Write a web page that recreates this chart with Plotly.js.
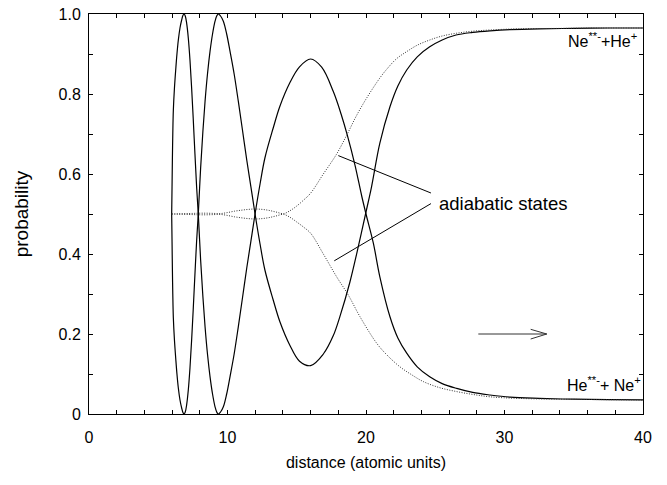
<!DOCTYPE html>
<html>
<head>
<meta charset="utf-8">
<script src="https://cdn.plot.ly/plotly-3.0.1.min.js"></script>
<style>html,body{margin:0;padding:0;background:#fff;}#chart{width:667px;height:485px;}</style>
</head>
<body>
<div id="chart"></div>
<script>
// Diabatic (solid) curve A
const xA = [5.97, 6.0, 6.02, 6.05, 6.09, 6.17, 6.26, 6.35, 6.45, 6.57, 6.69, 6.78, 6.86, 6.95, 7.05, 7.17, 7.29, 7.41, 7.53, 7.65, 7.77, 7.89, 8.06, 8.22, 8.38, 8.56, 8.74, 8.92, 9.1, 9.22, 9.34, 9.5, 9.7, 9.94, 10.18, 10.48, 10.78, 11.08, 11.39, 11.69, 11.99, 12.35, 12.7, 13.3, 13.79, 14.5, 15.2, 16.0, 16.8, 17.64, 18.2, 18.65, 19.2, 19.69, 20.0, 20.53, 21.0, 21.73, 22.3, 22.94, 23.7, 24.6, 25.5, 26.55, 27.7, 28.95, 30.4, 32.5, 35, 37.5, 40];
const yA = [0.5, 0.58, 0.635, 0.70, 0.76, 0.815, 0.86, 0.9, 0.935, 0.965, 0.985, 0.996, 1.0, 0.995, 0.977, 0.94, 0.885, 0.815, 0.735, 0.65, 0.568, 0.5, 0.385, 0.295, 0.218, 0.148, 0.093, 0.05, 0.018, 0.005, 0.0, 0.005, 0.018, 0.05, 0.093, 0.15, 0.218, 0.29, 0.365, 0.432, 0.5, 0.575, 0.64, 0.715, 0.77, 0.828, 0.868, 0.8875, 0.867, 0.806, 0.75, 0.697, 0.623, 0.545, 0.5, 0.427, 0.343, 0.243, 0.19, 0.152, 0.118, 0.093, 0.076, 0.064, 0.054, 0.0475, 0.042, 0.039, 0.037, 0.036, 0.0355];

// Diabatic (solid) curve B
const xB = [5.97, 6.0, 6.02, 6.05, 6.09, 6.17, 6.26, 6.35, 6.45, 6.57, 6.69, 6.78, 6.86, 6.95, 7.05, 7.17, 7.29, 7.41, 7.53, 7.65, 7.77, 7.89, 8.06, 8.22, 8.38, 8.56, 8.74, 8.92, 9.1, 9.22, 9.34, 9.5, 9.7, 9.94, 10.18, 10.48, 10.78, 11.08, 11.39, 11.69, 11.99, 12.35, 12.7, 13.3, 13.79, 14.5, 15.2, 16.0, 16.92, 17.64, 18.12, 18.84, 19.33, 20.0, 20.4, 21.0, 21.73, 22.3, 22.94, 23.7, 24.6, 25.5, 26.5, 27.7, 28.95, 30.4, 32.5, 35, 37.5, 40];
const yB = [0.5, 0.42, 0.365, 0.30, 0.24, 0.185, 0.14, 0.10, 0.065, 0.035, 0.015, 0.004, 0.0, 0.005, 0.023, 0.06, 0.115, 0.185, 0.265, 0.35, 0.432, 0.5, 0.615, 0.705, 0.782, 0.852, 0.907, 0.95, 0.982, 0.995, 1.0, 0.995, 0.982, 0.95, 0.907, 0.85, 0.782, 0.71, 0.635, 0.568, 0.5, 0.425, 0.36, 0.285, 0.23, 0.172, 0.132, 0.121, 0.15, 0.196, 0.244, 0.33, 0.401, 0.505, 0.568, 0.677, 0.768, 0.82, 0.86, 0.893, 0.918, 0.935, 0.9475, 0.954, 0.958, 0.961, 0.963, 0.964, 0.965, 0.965];

// Adiabatic (dotted) state 1
const xD1 = [5.97, 6.5, 7, 7.5, 8, 8.5, 9, 9.46, 9.9, 10.5, 11, 11.5, 12, 12.5, 13, 13.5, 14.05, 14.5, 15, 15.5, 16, 16.92, 17.88, 18.65, 19.3, 20.05, 21, 21.5, 22.2, 22.94, 23.7, 24.6, 25.5, 26.55, 27.7, 28.95, 31, 34, 37, 40];
const yD1 = [0.5, 0.5005, 0.501, 0.5015, 0.502, 0.502, 0.5015, 0.501, 0.503, 0.507, 0.5095, 0.5115, 0.5125, 0.5115, 0.509, 0.505, 0.501, 0.508, 0.52, 0.535, 0.552, 0.60, 0.65, 0.70, 0.745, 0.79, 0.84, 0.862, 0.888, 0.906, 0.922, 0.935, 0.945, 0.952, 0.957, 0.96, 0.963, 0.964, 0.965, 0.965];

// Adiabatic (dotted) state 2
const xD2 = [5.97, 6.5, 7, 7.5, 8, 8.5, 9, 9.46, 9.9, 10.5, 11, 11.5, 12, 12.5, 13, 13.5, 14.05, 14.5, 15, 15.5, 16, 16.92, 17.88, 18.72, 19.57, 20.77, 21.5, 22.45, 23.3, 24.14, 25.3, 26.55, 27.7, 28.95, 31, 34, 37, 40];
const yD2 = [0.5, 0.4995, 0.499, 0.4985, 0.498, 0.498, 0.4985, 0.499, 0.497, 0.493, 0.4905, 0.4885, 0.4875, 0.4885, 0.491, 0.495, 0.499, 0.492, 0.48, 0.467, 0.452, 0.40, 0.343, 0.2975, 0.243, 0.177, 0.148, 0.118, 0.098, 0.081, 0.066, 0.056, 0.049, 0.043, 0.039, 0.037, 0.036, 0.035];

// Tick labels
const xTickVals = [0, 10, 20, 30, 40];
const xTickText = ['0', '10', '20', '30', '40'];
const yTickVals = [0, 0.2, 0.4, 0.6, 0.8, 1.0];
const yTickText = ['0', '0.2', '0.4', '0.6', '0.8', '1.0'];

const FONT = 'Liberation Sans, Arial, Helvetica, sans-serif';

const solid = {color: '#000', width: 1.2, shape: 'spline', smoothing: 1};
const dotted = {color: '#333', width: 1, dash: '1px,1.5px', shape: 'spline', smoothing: 1};

const traces = [
  {x: xA, y: yA, mode: 'lines', line: solid, hoverinfo: 'skip', showlegend: false},
  {x: xB, y: yB, mode: 'lines', line: solid, hoverinfo: 'skip', showlegend: false},
  {x: xD1, y: yD1, mode: 'lines', line: dotted, hoverinfo: 'skip', showlegend: false},
  {x: xD2, y: yD2, mode: 'lines', line: dotted, hoverinfo: 'skip', showlegend: false}
];

const axisCommon = {
  showline: true, linecolor: '#000', linewidth: 1, mirror: 'ticks',
  ticks: 'inside', ticklen: 4, tickwidth: 1, tickcolor: '#000',
  showgrid: false, zeroline: false,
  tickfont: {family: FONT, size: 16, color: '#000'},
  tickmode: 'array'
};

const layout = {
  width: 667, height: 485,
  margin: {l: 89, r: 24, t: 14, b: 71},
  paper_bgcolor: '#fff', plot_bgcolor: '#fff',
  font: {family: FONT, color: '#000'},
  xaxis: Object.assign({}, axisCommon, {
    range: [0, 40], tickvals: xTickVals, ticktext: xTickText,
    ticklabelstandoff: 9,
    minor: {tickmode: 'linear', tick0: 0, dtick: 2, ticks: 'inside', ticklen: 4, tickcolor: '#000', tickwidth: 1, showgrid: false},
    title: {text: 'distance (atomic units)', font: {family: FONT, size: 16, color: '#000'}, standoff: 11}
  }),
  yaxis: Object.assign({}, axisCommon, {
    range: [0, 1], tickvals: yTickVals, ticktext: yTickText,
    ticklabelstandoff: 4,
    minor: {tickmode: 'linear', tick0: 0, dtick: 0.1, ticks: 'inside', ticklen: 4, tickcolor: '#000', tickwidth: 1, showgrid: false},
    title: {text: 'probability', font: {family: FONT, size: 19, color: '#000'}, standoff: 24}
  }),
  shapes: [
    {type: 'path', xref: 'x', yref: 'y', path: 'M18.0,0.646 L24.69,0.5525', line: {color: '#000', width: 1}},
    {type: 'path', xref: 'x', yref: 'y', path: 'M17.71,0.383 L24.69,0.526', line: {color: '#000', width: 1}},
    {type: 'path', xref: 'x', yref: 'y', path: 'M28.11,0.2 L33.05,0.2 M31.89,0.2117 L33.05,0.2 L31.89,0.1875', line: {color: '#333', width: 1}}
  ],
  annotations: [
    {xref: 'x', yref: 'y', x: 25.1, y: 0.527, xanchor: 'left', yanchor: 'middle', showarrow: false,
     text: 'adiabatic states', font: {family: FONT, size: 18.5, color: '#000'}},
    {xref: 'x', yref: 'y', x: 40, y: 0.935, xanchor: 'right', yanchor: 'middle', xshift: -4, showarrow: false,
     text: 'Ne<sup>**-</sup>+He<sup>+</sup>', font: {family: FONT, size: 16, color: '#000'}},
    {xref: 'x', yref: 'y', x: 40, y: 0.075, xanchor: 'right', yanchor: 'middle', xshift: 0, showarrow: false,
     text: 'He<sup>**-</sup>+ Ne<sup>+</sup>', font: {family: FONT, size: 16, color: '#000'}}
  ]
};

Plotly.newPlot('chart', traces, layout, {staticPlot: true, displayModeBar: false});
</script>
</body>
</html>
